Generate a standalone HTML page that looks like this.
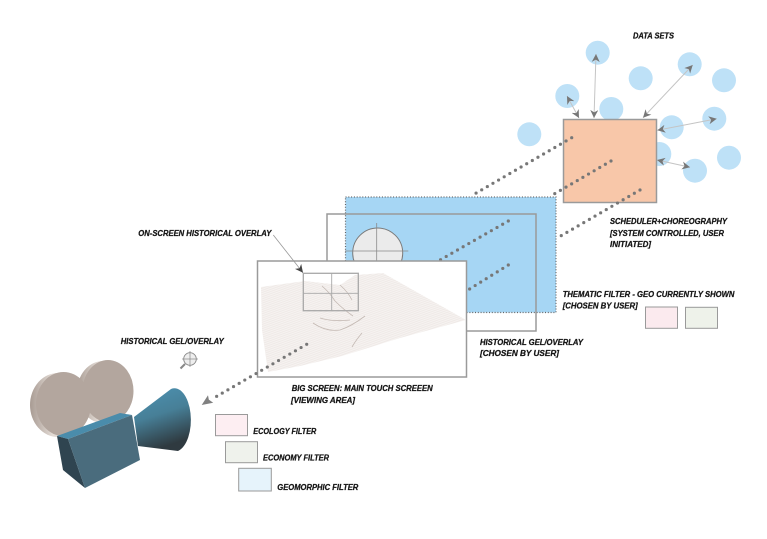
<!DOCTYPE html>
<html>
<head>
<meta charset="utf-8">
<style>
  html, body { margin: 0; padding: 0; background: #ffffff; }
  svg { display: block; }
  .lbl { font-family: "Liberation Sans", sans-serif; font-weight: bold; font-style: italic; font-size: 8px; fill: #151515; stroke: #151515; stroke-width: 0.25; }
  .dots { fill: none; stroke: #777; stroke-width: 3.2; stroke-linecap: round; stroke-dasharray: 0 6.5; }
</style>
</head>
<body>
<svg width="767" height="539" viewBox="0 0 767 539" xmlns="http://www.w3.org/2000/svg">
  <defs>
    <marker id="ah" viewBox="0 0 10 10" refX="10" refY="5" markerWidth="8" markerHeight="8" markerUnits="userSpaceOnUse" orient="auto-start-reverse">
      <path d="M0,0 L10,5 L0,10 L3,5 Z" fill="#777"/>
    </marker>
    <marker id="ahd" viewBox="0 0 10 10" refX="10" refY="5" markerWidth="8" markerHeight="8" markerUnits="userSpaceOnUse" orient="auto">
      <path d="M0,0 L10,5 L0,10 L3,5 Z" fill="#444"/>
    </marker>
    <pattern id="mesh" width="2" height="2" patternUnits="userSpaceOnUse" patternTransform="rotate(-20)">
      <rect width="2" height="2" fill="#f6f3f1"/>
      <line x1="0" y1="0.5" x2="2" y2="0.5" stroke="#e3dbd7" stroke-width="0.4"/>
    </pattern>
    <linearGradient id="cone" x1="0" y1="0" x2="0.3" y2="1">
      <stop offset="0" stop-color="#4d93b3"/>
      <stop offset="0.5" stop-color="#477f97"/>
      <stop offset="1" stop-color="#2f3a40"/>
    </linearGradient>
    <linearGradient id="reeledge" x1="0" y1="0" x2="1" y2="0">
      <stop offset="0" stop-color="#a89b93"/>
      <stop offset="0.4" stop-color="#e2dad4"/>
      <stop offset="1" stop-color="#cfc4bd"/>
    </linearGradient>
  </defs>

  <!-- Data set circles -->
  <g fill="#bee1f7">
    <circle cx="597.7" cy="52.7" r="12"/>
    <circle cx="640.7" cy="78.3" r="12"/>
    <circle cx="689.7" cy="64.3" r="12"/>
    <circle cx="724" cy="80.3" r="12"/>
    <circle cx="567.3" cy="96" r="12"/>
    <circle cx="611.3" cy="109" r="12"/>
    <circle cx="529.3" cy="134.3" r="12"/>
    <circle cx="671.7" cy="127.3" r="12"/>
    <circle cx="714.3" cy="118.7" r="12"/>
    <circle cx="659.3" cy="154" r="12"/>
    <circle cx="695" cy="170.7" r="12"/>
    <circle cx="729" cy="157.7" r="12"/>
  </g>

  <!-- Orange scheduler box -->
  <rect x="563.5" y="119.5" width="93" height="83" fill="#f8c7a9" stroke="#9a9a9a" stroke-width="1.5"/>

  <!-- dataset arrows -->
  <g stroke="#c4c4c4" stroke-width="1" fill="none">
    <line x1="567" y1="96" x2="579" y2="118" marker-start="url(#ah)" marker-end="url(#ah)"/>
    <line x1="596" y1="54" x2="594" y2="118" marker-start="url(#ah)" marker-end="url(#ah)"/>
    <line x1="692.7" y1="65" x2="643" y2="117.7" marker-start="url(#ah)" marker-end="url(#ah)"/>
    <line x1="716.7" y1="118.7" x2="657.3" y2="130.3" marker-start="url(#ah)" marker-end="url(#ah)"/>
    <line x1="657" y1="160" x2="690" y2="167.3" marker-start="url(#ah)" marker-end="url(#ah)"/>
  </g>

  <!-- Blue thematic filter rect -->
  <rect x="345.5" y="197" width="210.5" height="115.5" fill="#a6d6f4" stroke="#666" stroke-width="1.2" stroke-dasharray="1 1.8"/>

  <!-- Historical gel outline -->
  <rect x="327" y="214" width="209" height="117" fill="none" stroke="#9a9a9a" stroke-width="1.5"/>

  <!-- gel circle -->
  <circle cx="377.7" cy="253" r="25" fill="#ebebeb" stroke="#7a7a7a" stroke-width="1"/>
  <line x1="345" y1="251" x2="408.3" y2="251" stroke="#8a8a8a" stroke-width="0.8"/>
  <line x1="376.7" y1="223" x2="376.7" y2="262" stroke="#8a8a8a" stroke-width="0.8"/>

  <!-- dotted connectors (upper) -->
  <line class="dots" x1="571.7" y1="137.7" x2="475.7" y2="193.3"/>
  <line class="dots" x1="611" y1="161" x2="550.7" y2="196"/>
  <line class="dots" x1="640" y1="190" x2="556.7" y2="238.3"/>
  <line class="dots" x1="508.3" y1="221" x2="440" y2="260"/>
  <line class="dots" x1="508.3" y1="265" x2="468" y2="290"/>

  <!-- Big screen -->
  <rect x="257.5" y="261" width="209" height="116" fill="#ffffff" stroke="#9a9a9a" stroke-width="1.5"/>

  <!-- terrain mesh -->
  <polygon points="261,287 305,281 340,285 355,275 383,273 466,320 400,338 342,356 300,366 268,372 262,330" fill="url(#mesh)"/>
  <g fill="none" stroke="#c4b9b3" stroke-width="0.8">
    <path d="M322,286 Q330,293 335,301 Q344,310 353,316"/>
    <path d="M313,323 Q326,332 340,330 Q352,326 365,316"/>
    <path d="M320,318 Q333,322 350,320"/>
    <path d="M362,333 Q356,340 352,347"/>
    <path d="M340,285 Q348,292 352,300"/>
  </g>

  <!-- overlay rect -->
  <rect x="303.3" y="273.3" width="55" height="37.4" fill="none" stroke="#a8a8a8" stroke-width="1.3"/>
  <line x1="331.7" y1="273.3" x2="331.7" y2="310.7" stroke="#a8a8a8" stroke-width="0.9"/>
  <line x1="303.3" y1="293.3" x2="358.3" y2="293.3" stroke="#a8a8a8" stroke-width="0.9"/>

  <!-- label arrow to overlay -->
  <line x1="273.3" y1="235" x2="303" y2="272.7" stroke="#999" stroke-width="0.8" marker-end="url(#ahd)"/>

  <!-- dotted connector to camera -->
  <line class="dots" x1="306.7" y1="344.3" x2="212" y2="399"/>
  <path d="M201.7,405 L208,395.2 L208.8,399.6 L213.2,402.8 Z" fill="#808080"/>

  <!-- swatches -->
  <g stroke="#9a9a9a" stroke-width="1">
    <rect x="645.5" y="307" width="32" height="21.3" fill="#fbeaee"/>
    <rect x="685.5" y="307.3" width="32" height="21" fill="#eef2ea"/>
    <rect x="215.5" y="414.5" width="32" height="21.2" fill="#fdeef2"/>
    <rect x="225.5" y="441.7" width="32" height="21" fill="#eff2ec"/>
    <rect x="238.7" y="468.3" width="32.6" height="22.7" fill="#e6f3fb"/>
  </g>

  <!-- magnifier icon -->
  <g stroke="#888" fill="none">
    <line x1="185" y1="364" x2="180.5" y2="368.5" stroke-width="2"/>
    <circle cx="190" cy="359" r="6.3" fill="#eeeeee" stroke-width="0.9"/>
    <line x1="182" y1="359" x2="198" y2="359" stroke-width="0.7"/>
    <line x1="190" y1="351" x2="190" y2="367" stroke-width="0.7"/>
  </g>

  <!-- Camera -->
  <path d="M134,417 L171,389 A16,31 0 0 1 178,451 L138,446 Z" fill="url(#cone)"/>
  <ellipse cx="103" cy="392" rx="26" ry="31" fill="url(#reeledge)"/>
  <ellipse cx="108" cy="391" rx="25.5" ry="31" fill="#b3a69e"/>
  <ellipse cx="58" cy="405" rx="28" ry="32" fill="url(#reeledge)"/>
  <ellipse cx="63.5" cy="404" rx="27.5" ry="32" fill="#b3a69e"/>
  <polygon points="57,436 120,413 132,415 68,439" fill="#4a8cab"/>
  <polygon points="57,436 68,439 85,488 63,470" fill="#2f4450"/>
  <polygon points="68,439 132,415 140,460 85,488" fill="#4a6c7d"/>

  <!-- Labels -->
  <text class="lbl" x="633" y="38.5" textLength="41" lengthAdjust="spacingAndGlyphs">DATA SETS</text>
  <text class="lbl" x="138.3" y="236" textLength="133" lengthAdjust="spacingAndGlyphs">ON-SCREEN HISTORICAL OVERLAY</text>
  <text class="lbl" x="120.7" y="344" textLength="103" lengthAdjust="spacingAndGlyphs">HISTORICAL GEL/OVERLAY</text>
  <text class="lbl" x="291.7" y="391" textLength="141" lengthAdjust="spacingAndGlyphs">BIG SCREEN: MAIN TOUCH SCREEEN</text>
  <text class="lbl" x="291" y="403" textLength="64" lengthAdjust="spacingAndGlyphs">[VIEWING AREA]</text>
  <text class="lbl" x="480" y="345" textLength="103" lengthAdjust="spacingAndGlyphs">HISTORICAL GEL/OVERLAY</text>
  <text class="lbl" x="480" y="356" textLength="79" lengthAdjust="spacingAndGlyphs">[CHOSEN BY USER]</text>
  <text class="lbl" x="610" y="224" textLength="117" lengthAdjust="spacingAndGlyphs">SCHEDULER+CHOREOGRAPHY</text>
  <text class="lbl" x="610" y="236" textLength="114" lengthAdjust="spacingAndGlyphs">[SYSTEM CONTROLLED, USER</text>
  <text class="lbl" x="610" y="247" textLength="41" lengthAdjust="spacingAndGlyphs">INITIATED]</text>
  <text class="lbl" x="562.7" y="297" textLength="171.7" lengthAdjust="spacingAndGlyphs">THEMATIC FILTER - GEO CURRENTLY SHOWN</text>
  <text class="lbl" x="562.7" y="308.5" textLength="75" lengthAdjust="spacingAndGlyphs">[CHOSEN BY USER]</text>
  <text class="lbl" x="253.3" y="434" textLength="63" lengthAdjust="spacingAndGlyphs">ECOLOGY FILTER</text>
  <text class="lbl" x="263" y="460.5" textLength="66" lengthAdjust="spacingAndGlyphs">ECONOMY FILTER</text>
  <text class="lbl" x="277.3" y="490" textLength="81" lengthAdjust="spacingAndGlyphs">GEOMORPHIC FILTER</text>
</svg>
</body>
</html>
